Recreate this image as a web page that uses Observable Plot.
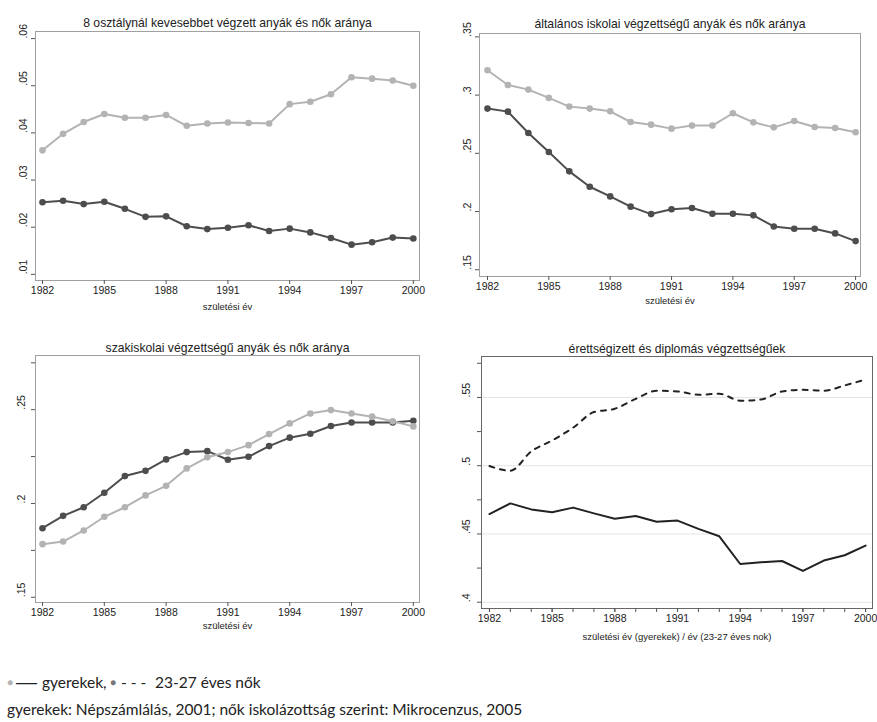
<!DOCTYPE html>
<html>
<head>
<meta charset="utf-8">
<script src="https://cdn.jsdelivr.net/npm/d3@7"></script>
<script src="https://cdn.jsdelivr.net/npm/@observablehq/plot@0.6"></script>
<style>
  html, body { margin: 0; padding: 0; background: #fff; }
  #wrap { position: relative; width: 877px; height: 722px; overflow: hidden; background: #fff; }
  #wrap svg { position: absolute; }
  .leg { position: absolute; left: 7px; font-family: Lato, "Open Sans", sans-serif; color: #222; white-space: nowrap; }
  .legrow { position: absolute; left: 0; top: 670px; height: 24px; width: 300px; font-family: Lato, "Open Sans", sans-serif; color: #222; font-size: 15.5px; }
  .legrow span { position: absolute; top: 0; white-space: nowrap; line-height: 24px; }
</style>
</head>
<body>
<div id="wrap"></div>
<script>
// ---------- data ----------
const years = [1982,1983,1984,1985,1986,1987,1988,1989,1990,1991,1992,1993,1994,1995,1996,1997,1998,1999,2000];
const xTickYears = [1982,1985,1988,1991,1994,1997,2000];

// Panel 1: 8 osztálynál kevesebbet végzett
const p1Gyerekek = [0.0363,0.0398,0.0423,0.0440,0.0432,0.0432,0.0438,0.0415,0.0420,0.0422,0.0421,0.0420,0.0461,0.0466,0.0482,0.0518,0.0515,0.0511,0.0500];
const p1Nok      = [0.0253,0.0256,0.0249,0.0254,0.0239,0.0222,0.0223,0.0202,0.0196,0.0199,0.0204,0.0192,0.0197,0.0189,0.0177,0.0163,0.0168,0.0178,0.0176];
const p1YTicks = [0.01,0.02,0.03,0.04,0.05,0.06];

// Panel 2: általános iskolai
const p2Gyerekek = [0.3213,0.3087,0.3047,0.2976,0.2901,0.2884,0.2861,0.2769,0.2746,0.2712,0.2738,0.2738,0.2844,0.2766,0.2723,0.2778,0.2726,0.2718,0.2681];
const p2Nok      = [0.2884,0.2858,0.2675,0.2511,0.2345,0.2213,0.2130,0.2042,0.1978,0.2019,0.2030,0.1981,0.1981,0.1967,0.1872,0.1852,0.1852,0.1812,0.1746];
const p2YTicks = [0.15,0.2,0.25,0.3,0.35];

// Panel 3: szakiskolai
const p3Gyerekek = [0.1783,0.1797,0.1856,0.1929,0.1980,0.2043,0.2094,0.2187,0.2246,0.2274,0.2311,0.2370,0.2427,0.2480,0.2498,0.2480,0.2463,0.2438,0.2411];
const p3Nok      = [0.1868,0.1934,0.1980,0.2057,0.2146,0.2174,0.2235,0.2274,0.2279,0.2233,0.2249,0.2306,0.2351,0.2372,0.2413,0.2432,0.2432,0.2432,0.2441];
const p3YTicks = [0.15,0.2,0.25];
const p3YMinor = [0.175,0.225,0.275];

// Panel 4: érettségizett és diplomás
const p4Gyerekek = [0.4646,0.4724,0.4680,0.4659,0.4693,0.4651,0.4612,0.4632,0.4590,0.4598,0.4537,0.4483,0.4280,0.4293,0.4302,0.4229,0.4305,0.4344,0.4415];
const p4Nok      = [0.4998,0.4963,0.5105,0.5185,0.5278,0.5393,0.5417,0.5490,0.5549,0.5544,0.5520,0.5527,0.5476,0.5485,0.5544,0.5556,0.5549,0.5588,0.5632];
const p4YTicks = [0.4,0.45,0.5,0.55];
const p4YMinor = [0.425,0.475,0.525,0.575];

const titles = [
  "8 osztálynál kevesebbet végzett anyák és nők aránya",
  "általános iskolai végzettségű anyák és nők aránya",
  "szakiskolai végzettségű anyák és nők aránya",
  "érettségizett és diplomás végzettségűek"
];
const xLabel = "születési év";
const xLabel4 = "születési év (gyerekek) / év (23-27 éves nok)";
const legendText = ["gyerekek,", "23-27 éves nők"];
const captionText = "gyerekek: Népszámlálás, 2001; nők iskolázottság szerint: Mikrocenzus, 2005";

// ---------- helpers ----------
const GRAY = "#b3b3b3", DARK = "#4d4d4d";
const fmt = d => String(+d.toFixed(3)).replace(/^0\./, ".");
const toRows = arr => years.map((year, i) => ({year, value: arr[i]}));

function panel(cfg) {
  const marks = [];
  if (cfg.grid) marks.push(Plot.ruleY(cfg.grid, {stroke: "#e4e4e4", strokeWidth: 1}));
  marks.push(Plot.frame({stroke: cfg.frameStroke, strokeWidth: 1}));
  marks.push(Plot.axisY({ticks: [...cfg.yTicks, ...(cfg.yMinor || [])], tickSize: 4, tickFormat: () => "", label: null, stroke: "#555"}));
  marks.push(Plot.text(cfg.yTicks, {y: d => d, text: fmt, frameAnchor: "left", dx: cfg.ylabDx, rotate: -90, fontSize: 10.5, fill: "#222"}));
  if (cfg.xMinor) marks.push(Plot.axisX({ticks: years, tickSize: 4, tickFormat: () => "", label: null, stroke: "#555"}));
  marks.push(Plot.axisX({ticks: xTickYears, tickSize: 4, tickPadding: 2, tickFormat: d => String(d), label: null, stroke: "#555", fontSize: 10.5, fill: "#222"}));
  marks.push(Plot.text([cfg.title], {frameAnchor: "top", dy: cfg.titleDy, fontSize: 12.2, fill: "#222"}));
  marks.push(Plot.text([cfg.xlabel], {frameAnchor: "bottom", dy: cfg.xlabelDy, fontSize: 9.5, fill: "#222"}));
  for (const s of cfg.series) {
    marks.push(Plot.line(toRows(s.values), {x: "year", y: "value", stroke: s.color, strokeWidth: s.width || 2, strokeDasharray: s.dash, curve: s.curve || "linear"}));
    if (s.dots) marks.push(Plot.dot(toRows(s.values), {x: "year", y: "value", fill: s.color, r: 3.3, stroke: "none"}));
  }
  const svg = Plot.plot({
    width: cfg.width, height: cfg.height,
    marginTop: cfg.mt, marginRight: cfg.mr, marginBottom: cfg.mb, marginLeft: cfg.ml,
    x: {domain: cfg.xDomain, axis: null},
    y: {domain: cfg.yDomain, axis: null},
    style: {fontFamily: "'Liberation Sans', Arial, sans-serif", fontSize: "10px", background: "transparent", overflow: "visible"},
    marks
  });
  svg.style.left = cfg.left + "px";
  svg.style.top = cfg.top + "px";
  return svg;
}

const wrap = document.getElementById("wrap");

wrap.appendChild(panel({
  left: 0, top: 0, width: 437, height: 318, mt: 31, mr: 18, mb: 38, ml: 35,
  xDomain: [1981.66, 2000.3], yDomain: [0.0087, 0.0615],
  yTicks: p1YTicks, ylabDx: -12, frameStroke: "#a0a0a0",
  title: titles[0], titleDy: -13, xlabel: xLabel, xlabelDy: 29,
  series: [{values: p1Gyerekek, color: GRAY, dots: true}, {values: p1Nok, color: DARK, dots: true}]
}));

wrap.appendChild(panel({
  left: 437, top: 0, width: 440, height: 318, mt: 33, mr: 17, mb: 42, ml: 42,
  xDomain: [1981.61, 2000.24], yDomain: [0.1442, 0.3529],
  yTicks: p2YTicks, ylabDx: -12, frameStroke: "#a0a0a0",
  title: titles[1], titleDy: -14, xlabel: xLabel, xlabelDy: 27,
  series: [{values: p2Gyerekek, color: GRAY, dots: true}, {values: p2Nok, color: DARK, dots: true}]
}));

wrap.appendChild(panel({
  left: 0, top: 318, width: 437, height: 330, mt: 37, mr: 18, mb: 46, ml: 35,
  xDomain: [1981.66, 2000.3], yDomain: [0.1472, 0.2789],
  yTicks: p3YTicks, yMinor: p3YMinor, ylabDx: -14, frameStroke: "#a0a0a0",
  title: titles[2], titleDy: -12, xlabel: xLabel, xlabelDy: 26,
  series: [{values: p3Nok, color: DARK, dots: true}, {values: p3Gyerekek, color: GRAY, dots: true}]
}));

wrap.appendChild(panel({
  left: 437, top: 318, width: 440, height: 330, mt: 38, mr: 5, mb: 40, ml: 44,
  xDomain: [1981.62, 2000.33], yDomain: [0.3954, 0.58],
  yTicks: p4YTicks, yMinor: p4YMinor, grid: p4YTicks, ylabDx: -15, frameStroke: "#666",
  xMinor: true,
  title: titles[3], titleDy: -12, xlabel: xLabel4, xlabelDy: 31,
  series: [{values: p4Gyerekek, color: "#222", width: 2}, {values: p4Nok, color: "#222", width: 2, dash: "5,6", curve: "monotone-x"}]
}));

// legend row (HTML text, pieces placed individually)
const leg = document.createElement("div");
leg.className = "legrow";
leg.innerHTML =
  `<span style="left:7px;color:${GRAY};font-size:10px">●</span>` +
  `<span style="left:16px;font-family:'Liberation Sans',Arial,sans-serif;font-size:21px;line-height:23px">—</span>` +
  `<span style="left:42px">${legendText[0]}</span>` +
  `<span style="left:110px;color:#777;font-size:10px">●</span>` +
  `<span style="left:121px">- - -</span>` +
  `<span style="left:155px">${legendText[1]}</span>`;
wrap.appendChild(leg);

const cap = document.createElement("div");
cap.className = "leg";
cap.style.top = "700px";
cap.style.fontSize = "15.5px";
cap.textContent = captionText;
wrap.appendChild(cap);
</script>
</body>
</html>
